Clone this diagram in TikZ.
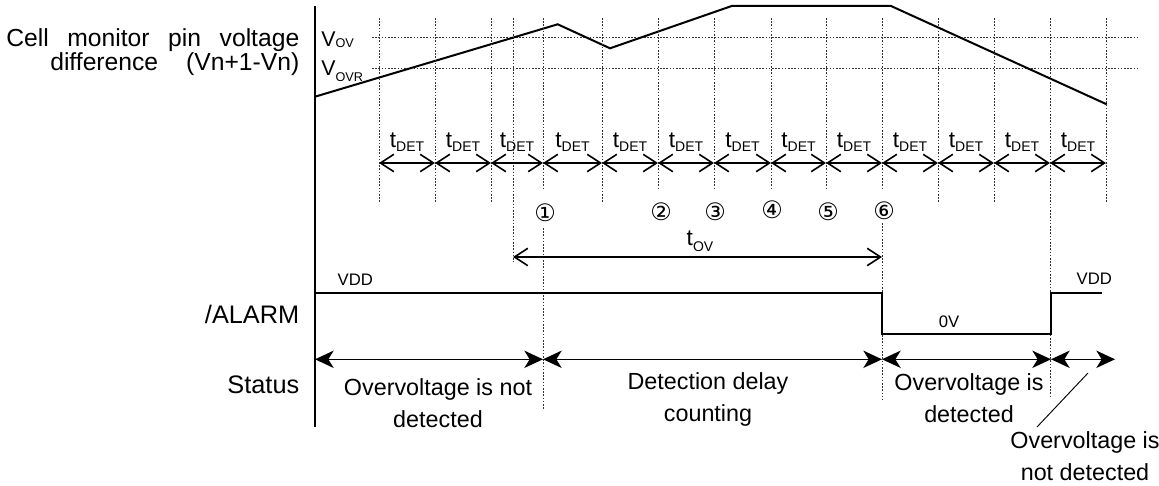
\documentclass[tikz,border=0pt]{standalone}
\usepackage{fontspec}
\setmainfont{Liberation Sans}
\newfontfamily\symfont{DejaVu Sans}
\usetikzlibrary{arrows.meta}
% t 与 V 的下标标签
\newcommand{\tlbl}[2]{{\fontsize{17}{20}\selectfont t}\raisebox{#2}{\fontsize{10.5}{12}\selectfont #1}}
\newcommand{\vlbl}[2]{{\fontsize{16}{19}\selectfont V}\raisebox{#2}{\fontsize{9.5}{11}\selectfont #1}}
\begin{document}
\begin{tikzpicture}[x=0.75pt,y=-0.75pt,>={Straight Barb[length=10pt,width=13pt,line width=1.2pt]},
  dotline/.style={line width=0.6pt,dash pattern=on 1.2pt off 1.2pt,black!80},
  thickline/.style={line width=1.4pt},
  dimarrow/.style={<->,line width=1pt},
  statarrow/.style={{Stealth[length=14pt,width=13pt,inset=4pt]}-{Stealth[length=14pt,width=13pt,inset=4pt]},line width=1.2pt},
  biglbl/.style={font=\fontsize{19}{22}\selectfont,anchor=base east},
  sidelbl/.style={font=\fontsize{18.5}{21}\selectfont,anchor=base east},
  statetxt/.style={font=\fontsize{17.5}{23.6}\selectfont,align=center,anchor=base},
  smalllbl/.style={font=\fontsize{12.5}{15}\selectfont,anchor=base west},
  numlbl/.style={font=\symfont\fontsize{18}{20}\selectfont}]
  \useasboundingbox (0,0) rectangle (1159,485);
  % 纵轴
  \draw[thickline] (315,6) -- (315,427);
  % 左侧标签
  \node[sidelbl] (cella) at (304,47) {\makebox[219.75pt][s]{Cell monitor pin voltage}};
  \node[sidelbl] (cellb) at (304,70) {\makebox[186.75pt][s]{difference (Vn+1-Vn)}};
  \node[biglbl] (alarm) at (304,323) {/ALARM};
  \node[biglbl] (status) at (304,393) {Status};
  % 阈值线
  \draw[dotline] (372,37.7) -- (1140,37.7);
  \draw[dotline] (372,68.3) -- (1140,68.3);
  \node[anchor=base west,inner sep=0] (vov) at (321,47) {\vlbl{OV}{-0.5pt}};
  \node[anchor=base west,inner sep=0] (vovr) at (321,75) {\vlbl{OVR}{-4.5pt}};
  % 电压波形
  \draw[line width=1.5pt] (315,96.7) -- (557.7,24.3) -- (610,48.3) -- (731.7,6)
    -- (891,6) -- (1106.7,104.3);
  % 分隔线
  \foreach \x in {379,435,491,602,938,994,1106}
    \draw[dotline] (\x,18) -- (\x,203);
  \foreach \x in {543,658,714,771,826,882}
    \draw[dotline] (\x,18) -- (\x,190);
  \draw[dotline] (543,228) -- (543,410);
  \draw[dotline] (882,223) -- (882,400);
  \draw[dotline] (1050,18) -- (1050,397);
  \draw[dotline] (513,18) -- (513,262);
  % t_DET
  \foreach \a/\b in {379/435,435/491,491/543,543/602,602/658,658/714,714/771,
      771/826,826/882,882/938,938/994,994/1050,1050/1106}{
    \draw[dimarrow] (\a,163) -- (\b,163);
    \node[anchor=base] (tdet\a) at ({(\a+\b)/2},147) {\tlbl{DET}{-3pt}};
  }
  % 编号
  \node[numlbl] (n1) at (545,213) {①};
  \node[numlbl] (n2) at (661,212) {②};
  \node[numlbl] (n3) at (715,212) {③};
  \node[numlbl] (n4) at (772,210) {④};
  \node[numlbl] (n5) at (828,212) {⑤};
  \node[numlbl] (n6) at (884,211) {⑥};
  % t_OV
  \draw[dimarrow] (513,257) -- (882,257);
  \node[anchor=base] (tov) at (700,245) {\tlbl{OV}{-4.5pt}};
  % /ALARM 波形
  \draw[thickline] (315,292.7) -- (882,292.7) -- (882,334) -- (1051,334)
    -- (1051,292.7) -- (1102,292.7);
  \node[smalllbl] (vddl) at (333,285) {VDD};
  \node[smalllbl] (vddr) at (1072,284) {VDD};
  \node[smalllbl,anchor=base] (zerov) at (949,327) {0V};
  % 状态
  \draw[statarrow] (315,359.3) -- (543,359.3);
  \draw[statarrow] (543,359.3) -- (882,359.3);
  \draw[statarrow] (882,359.3) -- (1051,359.3);
  \draw[statarrow] (1051,359.3) -- (1115,359.3);
  \node[statetxt] (st1) at (438,427) {Overvoltage is not\\detected};
  \node[statetxt] (st2) at (708,421) {Detection delay\\counting};
  \node[statetxt] (st3) at (969,422) {Overvoltage is\\detected};
  \node[statetxt] (st4) at (1085,480) {Overvoltage is\\not detected};
  % 引出线
  \draw[line width=0.7pt] (1037,427) -- (1088,373);
\end{tikzpicture}
\end{document}
